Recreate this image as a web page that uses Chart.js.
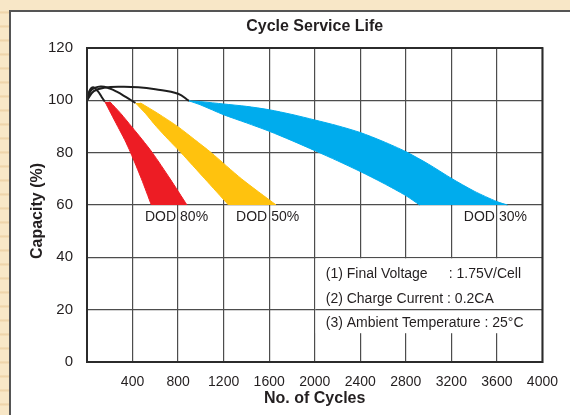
<!DOCTYPE html>
<html>
<head>
<meta charset="utf-8">
<script src="https://cdn.jsdelivr.net/npm/chart.js@4"></script>
<style>
  html, body { margin: 0; padding: 0; }
  body {
    width: 570px; height: 415px; overflow: hidden; position: relative;
    background: #f8e7c7 repeating-linear-gradient(180deg, #f8e7c7 0px, #f8e7c7 11px, #ecd0a4 12px, #f6e2bf 14px);
  }
  #panel {
    position: absolute; left: 9px; top: 10px; width: 600px; height: 450px;
    background: #fff; border: 2px solid #555;
  }
  #chartBox { position: absolute; left: 0; top: 0; width: 570px; height: 415px; }
</style>
</head>
<body>
<div id="panel"></div>
<div id="chartBox"><canvas id="lifeChart" width="570" height="415"></canvas></div>
<script>
// cycles / capacity (%)
const red80Inner = [[157, 99.5], [210, 95], [270, 90], [330, 85], [383, 80], [478, 70], [565, 60]];
const red80Outer = [[200, 99.5], [296, 95], [391, 90], [485, 85], [574, 80], [730, 70], [878, 60]];
const yel50Inner = [[426, 99], [513, 95], [609, 90], [715, 85], [826, 80], [1035, 70], [1243, 60]];
const yel50Outer = [[470, 99], [622, 95], [796, 90], [945, 85], [1091, 80], [1357, 70], [1661, 60]];
const blue30Inner = [[896, 99.8], [1000, 98.2], [1200, 94.5], [1400, 91.4], [1600, 88.2], [1800, 84.6], [2000, 80.8],
    [2200, 76.9], [2400, 72.8], [2600, 68.4], [2800, 63.6], [2922, 60]];
const blue30Outer = [[896, 99.8], [1000, 99.5], [1200, 98.6], [1400, 97.7], [1600, 96.4], [1800, 94.6], [2000, 92.5],
    [2200, 90.3], [2400, 87.7], [2600, 84.3], [2800, 80.4], [3000, 75.6], [3200, 70.2], [3400, 65.3], [3600, 61.3], [3693, 60]];

const rise80 = [[0, 100], [20, 103.5], [55, 105], [95, 103.5], [130, 101.2], [157, 99.5]];
const rise50 = [[0, 100], [40, 104], [120, 105.3], [200, 104.5], [265, 103.2], [340, 101.3], [426, 99]];
const rise30 = [[0, 100], [60, 103.5], [150, 104.8], [300, 105.2], [450, 105], [600, 104.2], [800, 102.5], [896, 99.8]];

const xTicks = [0, 400, 800, 1200, 1600, 2000, 2400, 2800, 3200, 3600, 4000];
const yTicks = [0, 20, 40, 60, 80, 100, 120];

const dodLabels = [['DOD', '80%', 800], ['DOD', '50%', 1600], ['DOD', '30%', 3600]];
const noteLines = ['(1) Final Voltage', '(2) Charge Current : 0.2CA', '(3) Ambient Temperature : 25°C'];
const noteExtra = ': 1.75V/Cell';

const RED = 'rgb(237,28,36)', YEL = 'rgb(255,194,14)', BLUE = 'rgb(0,172,237)';
const FONT = '"Liberation Sans", Arial, sans-serif';
const TXT = '#231f20';

const pts = arr => arr.map(p => ({x: p[0], y: p[1]}));

function edge(data, color, fill) {
    return {
        data: pts(data),
        borderColor: color,
        backgroundColor: color,
        borderWidth: 1,
        pointRadius: 0,
        tension: 0.25,
        fill: fill
    };
}
function rise(data) {
    return {
        data: pts(data),
        borderColor: '#1e1e1e',
        borderWidth: 2,
        pointRadius: 0,
        tension: 0.4,
        fill: false
    };
}

const deco = {
    id: 'deco',
    afterDraw(chart) {
        const {ctx, chartArea: a, scales: {x, y}} = chart;
        ctx.save();

        // note box covers the vertical grid
        const bx = x.getPixelForValue(2000) + 1;
        const by = y.getPixelForValue(40) + 1;
        const bb = y.getPixelForValue(11);
        ctx.fillStyle = '#fff';
        ctx.fillRect(bx, by, a.right - 1 - bx, bb - by);
        ctx.strokeStyle = '#4a4a4a';
        ctx.lineWidth = 1.3;
        ctx.beginPath();
        ctx.moveTo(bx, y.getPixelForValue(20));
        ctx.lineTo(a.right, y.getPixelForValue(20));
        ctx.stroke();

        // outer frame
        ctx.strokeStyle = '#2b2b2b';
        ctx.lineWidth = 2;
        ctx.strokeRect(a.left, a.top, a.right - a.left, a.bottom - a.top);

        ctx.fillStyle = TXT;
        ctx.textBaseline = 'middle';
        ctx.font = '14px ' + FONT;
        const ny = [33.6, 24.2, 14.8];
        noteLines.forEach((t, i) => {
            ctx.textAlign = 'left';
            ctx.fillText(t, bx + 10, y.getPixelForValue(ny[i]));
        });
        ctx.fillText(noteExtra, bx + 133, y.getPixelForValue(ny[0]));

        // DOD labels split by the grid line
        const ly = y.getPixelForValue(60) + 12;
        dodLabels.forEach(l => {
            const gx = x.getPixelForValue(l[2]);
            ctx.textAlign = 'right';
            ctx.fillText(l[0], gx - 2, ly);
            ctx.textAlign = 'left';
            ctx.fillText(l[1], gx + 2, ly);
        });

        // titles
        const cx = (a.left + a.right) / 2;
        ctx.textAlign = 'center';
        ctx.font = 'bold 16px ' + FONT;
        ctx.fillText('Cycle Service Life', cx, 27);
        ctx.fillText('No. of Cycles', cx, 399);
        ctx.translate(38, 211);
        ctx.rotate(-Math.PI / 2);
        ctx.fillText('Capacity (%)', 0, 0);
        ctx.restore();
    }
};

const ctx = document.getElementById('lifeChart').getContext('2d');

const chart = new Chart(ctx, {
    type: 'line',
    data: {
        datasets: [
            edge(red80Inner, RED, false),
            edge(red80Outer, RED, '-1'),
            edge(yel50Inner, YEL, false),
            edge(yel50Outer, YEL, '-1'),
            edge(blue30Inner, BLUE, false),
            edge(blue30Outer, BLUE, '-1'),
            rise(rise80),
            rise(rise50),
            rise(rise30)
        ]
    },
    options: {
        indexAxis: 'y',
        responsive: false,
        animation: false,
        layout: {padding: {left: 10, right: 23, top: 48, bottom: 11}},
        plugins: {legend: {display: false}, tooltip: {enabled: false}},
        scales: {
            x: {
                type: 'linear',
                position: 'bottom',
                min: 0,
                max: 4000,
                z: 1,
                afterFit: s => { s.height = 42; },
                afterBuildTicks: s => { s.ticks = xTicks.map(v => ({value: v})); },
                grid: {color: '#4d4d4d', lineWidth: 1.2, drawTicks: false},
                border: {color: '#2b2b2b', width: 2},
                ticks: {
                    padding: 12,
                    maxRotation: 0,
                    color: TXT,
                    font: {family: FONT, size: 14},
                    callback: v => v === 0 ? '' : v
                }
            },
            y: {
                type: 'linear',
                position: 'left',
                min: 0,
                max: 120,
                z: 1,
                afterFit: s => { s.width = 77; },
                afterBuildTicks: s => { s.ticks = yTicks.map(v => ({value: v})); },
                grid: {color: '#4d4d4d', lineWidth: 1.2, drawTicks: false},
                border: {color: '#2b2b2b', width: 2},
                ticks: {
                    padding: 14,
                    color: TXT,
                    font: {family: FONT, size: 15}
                }
            }
        }
    },
    plugins: [deco]
});
</script>
</body>
</html>
